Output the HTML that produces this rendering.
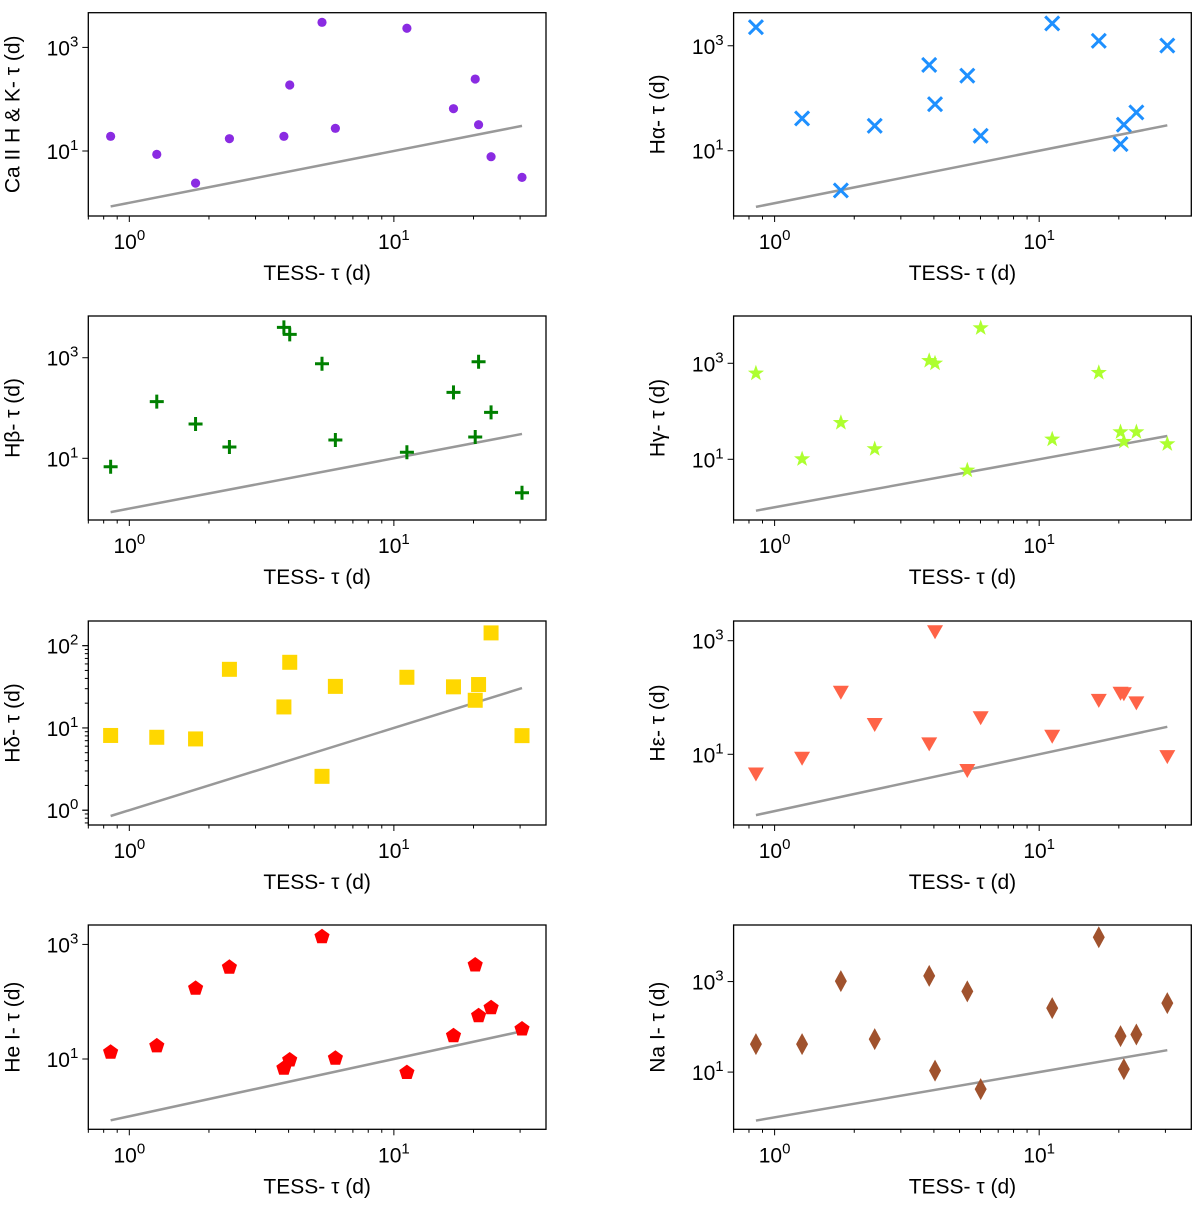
<!DOCTYPE html>
<html><head><meta charset="utf-8">
<style>
html,body{margin:0;padding:0;background:#fff;}
svg{display:block;font-family:"Liberation Sans","DejaVu Sans",sans-serif;}
</style></head>
<body>
<svg id="fig" width="1200" height="1205" viewBox="0 0 1200 1205" xmlns="http://www.w3.org/2000/svg"></svg>
<script>
// Shared x data: TESS rotation period (d)
const tessTau = [0.85,1.27,1.78,2.39,3.84,4.04,5.35,6.01,11.2,16.8,20.3,20.9,23.3,30.5];
// Series y values
const caValues = [19.2,8.6,2.4,17.3,19.2,188,3050,27.4,2340,65.6,245,32.2,7.76,3.1];
const haValues = [2260,41.3,1.75,29.9,430,77,269,19.2,2670,1245,13.4,31.3,53.7,1007];
const hbValues = [6.8,134,48,16.8,4020,2920,760,23.1,13.2,205,26.5,834,82,2.07];
const hgValues = [619,10.1,57.8,16.4,1130,1000,5.9,5430,26.1,637,37,23.3,37,20.8];
const hdValues = [8.1,7.7,7.35,51.6,18,62.8,2.58,32,41.3,31.6,21.7,33.7,143,8.06];
const heValues = [4.6,8.7,126,34.2,15.6,1470,5.3,44.8,21.2,91,121,119,82,9.3];
const heIValues = [13.1,16.9,171,398,6.9,9.6,1365,10.3,5.8,25.5,437,57,78.5,33.4];
const naValues = [41.5,41.5,1020,53.5,1340,10.8,608,4.2,259,9550,62.4,11.6,67.6,334];
// Axis labels
const yLabels = ["Ca II H & K- τ (d)","Hα- τ (d)","Hβ- τ (d)","Hγ- τ (d)","Hδ- τ (d)","Hε- τ (d)","He I- τ (d)","Na I- τ (d)"];
const xTickExps = [0,1];
const yTickExpsList = [[1,3],[1,3],[1,3],[1,3],[0,1,2],[1,3],[1,3],[1,3]];
const yLogMax = [3.67,3.63,3.83,3.985,2.30,3.347,3.339,4.25];
const yLogMin = [-0.255,-0.244,-0.227,-0.265,-0.18,-0.245,-0.227,-0.264];
const lineRange = [0.85,30.5];

const series=[caValues,haValues,hbValues,hgValues,hdValues,heValues,heIValues,naValues];
const colors=["#8a2be2","#1e90ff","#008000","#adff2f","#ffd700","#ff6347","#ff0000","#a0522d"];
const markers=["circle","x","plus","star","square","tri","pent","diamond"];
const NS="http://www.w3.org/2000/svg";
const svg=document.getElementById('fig');
const colX=[88.3,733.6], boxW=457.7;
const rowY=[[12.7,216],[316,520],[621,825],[925,1129.3]];
const xLogMin=-0.155, xLogMax=1.575;
function mk(tag,attrs,parent){const e=document.createElementNS(NS,tag);for(const k in attrs)e.setAttribute(k,attrs[k]);(parent||svg).appendChild(e);return e;}

function drawMarker(g,type,cx,cy,color){
  let e;
  if(type==="circle"){e=mk('circle',{cx:cx,cy:cy,r:4.6,fill:color},g);}
  else if(type==="x"){e=mk('path',{d:`M${cx-7} ${cy-7}L${cx+7} ${cy+7}M${cx-7} ${cy+7}L${cx+7} ${cy-7}`,stroke:color,'stroke-width':3,fill:'none'},g);}
  else if(type==="plus"){e=mk('path',{d:`M${cx-7} ${cy}L${cx+7} ${cy}M${cx} ${cy-7}L${cx} ${cy+7}`,stroke:color,'stroke-width':3,fill:'none'},g);}
  else if(type==="star"){let p=[];for(let i=0;i<10;i++){const r=i%2?3.4:8.5;const a=-Math.PI/2+i*Math.PI/5;p.push((cx+r*Math.cos(a)).toFixed(1)+','+(cy+r*Math.sin(a)).toFixed(1));}e=mk('polygon',{points:p.join(' '),fill:color},g);}
  else if(type==="square"){e=mk('rect',{x:cx-7.5,y:cy-7.5,width:15,height:15,fill:color},g);}
  else if(type==="tri"){e=mk('polygon',{points:`${cx-8},${cy-6} ${cx+8},${cy-6} ${cx},${cy+8}`,fill:color},g);}
  else if(type==="pent"){let p=[];for(let i=0;i<5;i++){const a=-Math.PI/2+i*2*Math.PI/5;p.push((cx+8*Math.cos(a)).toFixed(1)+','+(cy+8*Math.sin(a)).toFixed(1));}e=mk('polygon',{points:p.join(' '),fill:color},g);}
  else {e=mk('polygon',{points:`${cx},${cy-11} ${cx+6},${cy} ${cx},${cy+11} ${cx-6},${cy}`,fill:color},g);}
  return e;
}

for(let p=0;p<8;p++){
  const col=p%2,row=Math.floor(p/2);
  const x0=colX[col],x1=x0+boxW,y0=rowY[row][0],y1=rowY[row][1];
  const xs=v=>x0+(Math.log10(v)-xLogMin)/(xLogMax-xLogMin)*boxW;
  const ys=v=>y1-(Math.log10(v)-yLogMin[p])/(yLogMax[p]-yLogMin[p])*(y1-y0);
  const g=mk('g',{});
  
  
  for(let d=-1;d<=1;d++){for(let m=1;m<10;m++){const v=m*Math.pow(10,d);const lv=Math.log10(v);if(lv<xLogMin||lv>xLogMax)continue;const X=xs(v);mk('line',{x1:X,x2:X,y1:y1,y2:y1+(m===1?6:3.5),stroke:'#000','stroke-width':1},g);}}
  xTickExps.forEach(e=>{const X=xs(Math.pow(10,e));const t=mk('text',{x:X,y:y1+33,'text-anchor':'middle','font-size':21,fill:'#000'},g);t.innerHTML=`10<tspan dy="-9" font-size="15">${e}</tspan>`;});
  if(yTickExpsList[p].length===3){
    for(let d=-1;d<=2;d++){for(let m=1;m<10;m++){const v=m*Math.pow(10,d);const lv=Math.log10(v);if(lv<yLogMin[p]||lv>yLogMax[p])continue;const Y=ys(v);mk('line',{x1:x0,x2:x0-(m===1?6:3.5),y1:Y,y2:Y,stroke:'#000','stroke-width':1},g);}}
  }
  yTickExpsList[p].forEach(e=>{const Y=ys(Math.pow(10,e));mk('line',{x1:x0,x2:x0-6,y1:Y,y2:Y,stroke:'#000','stroke-width':1},g);const t=mk('text',{x:x0-10,y:Y+8,'text-anchor':'end','font-size':21,fill:'#000'},g);t.innerHTML=`10<tspan dy="-9" font-size="15">${e}</tspan>`;});
  const xl=mk('text',{x:(x0+x1)/2,y:y1+64,'text-anchor':'middle','font-size':21,fill:'#000'},g);
  xl.textContent='TESS- τ (d)';
  const cy=(y0+y1)/2, lx=x0-69;
  const yl=mk('text',{x:lx,y:cy,'text-anchor':'middle','font-size':21,fill:'#000',transform:`rotate(-90 ${lx} ${cy})`},g);
  yl.textContent=yLabels[p];
  const cid='clip'+p;const cp=mk('clipPath',{id:cid},g);mk('rect',{x:x0,y:y0,width:boxW,height:y1-y0},cp);
  const inner=mk('g',{'clip-path':`url(#${cid})`},g);
  const ln=mk('line',{x1:xs(lineRange[0]),y1:ys(lineRange[0]),x2:xs(lineRange[1]),y2:ys(lineRange[1]),stroke:'#999','stroke-width':2.5},inner);
  
  series[p].forEach((v,i)=>{const m=drawMarker(inner,markers[p],xs(tessTau[i]),ys(v),colors[p]);
    
    });
  mk('rect',{x:x0,y:y0,width:boxW,height:y1-y0,fill:'none',stroke:'#000','stroke-width':1.3},g);
}
</script>
</body></html>
